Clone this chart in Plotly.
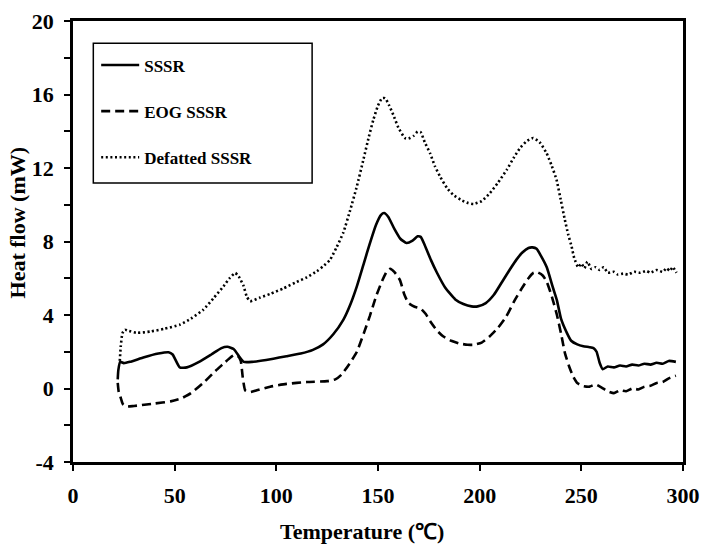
import plotly.graph_objects as go

# ---- data ----
sssr_t = [22.0, 22.3, 23.2, 25, 28, 35, 42, 47, 49, 52.5, 56, 62, 68, 73, 76, 79, 82, 84, 88, 95,
          105, 112, 118, 123, 128, 133, 136.5, 139.6, 143, 146, 149, 151.5, 153, 155, 158, 161, 164,
          167, 169.5, 171, 173, 176, 179, 183, 188, 192, 196, 199, 203, 207, 211, 215, 218, 221, 224,
          226, 228, 230, 233, 236, 238, 240, 243, 245, 248, 251, 254, 256, 257.5, 259, 260.5, 263,
          266, 269, 272, 275, 278, 281, 284, 287, 290, 293, 296.5]
sssr_y = [0.5, 1.0, 1.45, 1.38, 1.45, 1.7, 1.9, 1.97, 1.85, 1.15, 1.15, 1.45, 1.85, 2.2, 2.27, 2.15,
          1.7, 1.45, 1.45, 1.55, 1.75, 1.9, 2.1, 2.4, 2.95, 3.75, 4.6, 5.56, 6.8, 7.9, 8.9, 9.45,
          9.55, 9.35, 8.7, 8.15, 7.92, 8.05, 8.28, 8.25, 7.8, 7.0, 6.3, 5.5, 4.85, 4.6, 4.47, 4.47,
          4.65, 5.1, 5.8, 6.5, 7.0, 7.4, 7.65, 7.68, 7.6, 7.25, 6.6, 5.5, 4.8, 3.8, 3.0, 2.6, 2.4,
          2.3, 2.25, 2.2, 2.0, 1.4, 1.05, 1.2, 1.15, 1.25, 1.2, 1.3, 1.25, 1.35, 1.3, 1.4, 1.35,
          1.5, 1.45]

eog_t = [22.0, 22.5, 23.3, 24.5, 26, 30, 40, 48, 53, 58, 64, 70, 74, 77, 79, 81, 82.5, 83.5, 84.7,
         87, 90.4, 97, 105, 115, 125, 129, 132, 136, 139.6, 143, 146, 149, 152, 154.5, 156, 158,
         160.8, 163, 165, 168, 171, 173.5, 176, 179, 182, 186, 190, 194, 197, 201, 205, 209, 213,
         217, 221, 224, 226.5, 228.5, 231, 233, 235.5, 238, 240, 242, 244, 246, 248, 251, 254, 257,
         260, 263, 266, 269, 272, 275, 278, 281, 284, 287, 290, 293, 296.5]
eog_y = [0.3, -0.2, -0.45, -0.85, -0.98, -0.95, -0.82, -0.7, -0.55, -0.25, 0.3, 0.95, 1.35, 1.65,
         1.8, 1.78, 1.5, 0.6, -0.1, -0.2, -0.1, 0.1, 0.25, 0.35, 0.4, 0.5, 0.75, 1.35, 2.0, 3.0,
         3.95, 5.0, 5.85, 6.4, 6.52, 6.35, 5.9, 5.1, 4.65, 4.45, 4.35, 4.05, 3.6, 3.15, 2.84, 2.6,
         2.45, 2.38, 2.38, 2.5, 2.84, 3.3, 3.9, 4.75, 5.5, 6.0, 6.3, 6.32, 6.15, 5.8, 5.0, 4.0, 3.0,
         1.9, 1.2, 0.65, 0.3, 0.13, 0.1, 0.22, 0.05, -0.15, -0.25, -0.1, -0.15, 0.0, -0.05, 0.1,
         0.15, 0.3, 0.35, 0.55, 0.7]

def_t = [23.0, 23.5, 24.3, 25.5, 27, 31.4, 38, 45, 52.7, 58, 64.2, 69, 74, 77, 79.8, 81.5, 83.8,
         85.5, 87.1, 92, 97, 103.5, 110, 115, 119.9, 123, 126.4, 129.7, 133, 136.3, 139.6, 142.8,
         145.5, 147.7, 150, 152, 153.5, 155.5, 157.5, 160, 163.3, 165, 167.5, 169.5, 171, 173,
         175.6, 178, 180.5, 184, 187, 191, 194.4, 197, 201, 205, 209, 213.3, 217, 219.8, 223,
         226.3, 229.5, 232.9, 235.5, 237.8, 240, 241.9, 243.5, 245.2, 246.5, 248.5, 250, 251.5,
         253, 255, 257, 259, 261, 263, 266, 268, 270.6, 273, 276, 279, 282, 284, 287, 290, 292,
         293.5, 295, 296.8]
def_y = [1.5, 2.3, 3.0, 3.2, 3.15, 3.03, 3.1, 3.25, 3.48, 3.8, 4.3, 4.9, 5.56, 6.0, 6.29, 6.1, 5.6,
         5.0, 4.75, 4.95, 5.15, 5.45, 5.8, 6.05, 6.38, 6.65, 7.0, 7.7, 8.5, 9.7, 11.0, 12.45, 13.7,
         14.62, 15.4, 15.8, 15.8, 15.4, 14.9, 14.2, 13.63, 13.6, 13.75, 13.98, 13.95, 13.4, 12.8,
         12.1, 11.54, 10.9, 10.54, 10.25, 10.09, 10.04, 10.2, 10.63, 11.2, 11.9, 12.6, 13.08,
         13.45, 13.63, 13.4, 12.81, 12.1, 11.36, 10.2, 9.18, 8.4, 7.73, 7.1, 6.6, 6.8, 6.55, 6.9,
         6.5, 6.6, 6.45, 6.6, 6.3, 6.35, 6.2, 6.25, 6.2, 6.35, 6.3, 6.4, 6.3, 6.45, 6.35, 6.55,
         6.4, 6.6, 6.3]

names = ["SSSR", "EOG SSSR", "Defatted SSSR"]
x_ticks = [0, 50, 100, 150, 200, 250, 300]
y_ticks = [-4, 0, 4, 8, 12, 16, 20]
x_title = "Temperature (℃)"
y_title = "Heat flow (mW)"

FONT = "Liberation Serif, Times New Roman, serif"

fig = go.Figure()
series = [(sssr_t, sssr_y, "solid", 2.6), (eog_t, eog_y, "9px,5px", 2.6), (def_t, def_y, "2px,2.6px", 2.6)]
for i, (t, y, dash, w) in enumerate(series):
    fig.add_trace(go.Scatter(
        x=t, y=y, mode="lines", name=names[i], legendgroup=f"g{i}",
        line=dict(color="black", width=w, dash=dash, shape="spline", smoothing=0.5),
    ))

fig.update_layout(
    width=702, height=546,
    margin=dict(l=73, r=19, t=21, b=84),
    paper_bgcolor="white", plot_bgcolor="white",
    font=dict(family=FONT, size=21, color="black", weight="bold"),
    showlegend=True,
    legend=dict(
        x=0.038, y=0.94, xanchor="left", yanchor="top",
        bgcolor="rgba(0,0,0,0)", borderwidth=0,
        font=dict(family=FONT, size=17, color="black", weight="bold"),
        traceorder="grouped", tracegroupgap=21, itemwidth=38,
    ),
    shapes=[dict(type="rect", xref="paper", yref="paper",
                 x0=0.0333, x1=0.392, y0=0.6325, y1=0.9495,
                 line=dict(color="black", width=1.5))],
    annotations=[
        dict(text=x_title, xref="paper", yref="paper", x=0.474, y=-0.1578,
             xanchor="center", yanchor="middle", showarrow=False,
             font=dict(family=FONT, size=22, weight="bold", color="black")),
        dict(text=y_title, xref="paper", yref="paper", x=-0.0903, y=0.543,
             xanchor="center", yanchor="middle", showarrow=False, textangle=-90,
             font=dict(family=FONT, size=22, weight="bold", color="black")),
    ],
)

fig.update_xaxes(
    range=[0, 300], tickvals=x_ticks, ticktext=[str(v) for v in x_ticks],
    showgrid=False, zeroline=False, showline=True, linecolor="black", linewidth=2.5, mirror=True,
    ticks="outside", ticklen=6, tickwidth=2, tickcolor="black", automargin=False,
    tickfont=dict(family=FONT, size=22, weight="bold"), ticklabelstandoff=6,
)
fig.update_yaxes(
    range=[-4, 20], tickvals=y_ticks, ticktext=[str(v) for v in y_ticks],
    showgrid=False, zeroline=False, showline=True, linecolor="black", linewidth=2.5, mirror=True,
    ticks="outside", ticklen=6, tickwidth=2, tickcolor="black", automargin=False,
    minor=dict(dtick=2, tick0=0, ticks="outside", ticklen=6, tickwidth=2, tickcolor="black", showgrid=False),
    tickfont=dict(family=FONT, size=22, weight="bold"), ticklabelstandoff=6,
)

fig.write_html("out.html")
